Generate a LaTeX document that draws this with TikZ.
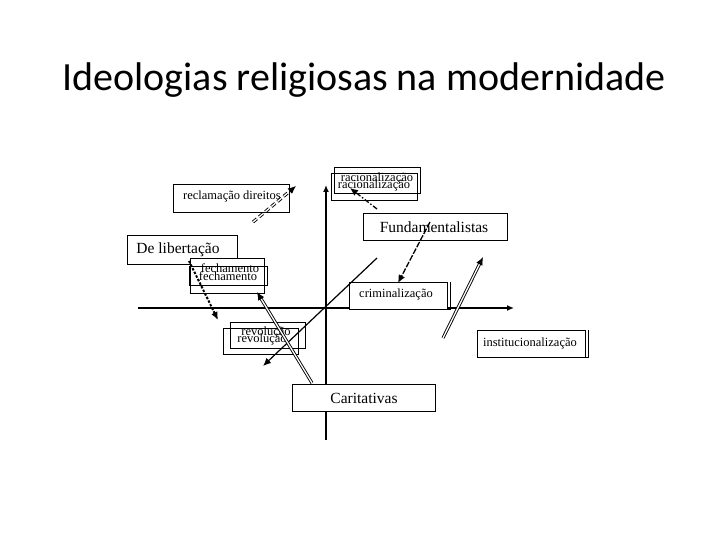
\documentclass[tikz,border=0pt]{standalone}
\usepackage{fontspec}
\setmainfont{Liberation Serif}
\newfontfamily\titlefont{Carlito}
\newfontfamily\labelfont{Liberation Serif}
\usetikzlibrary{arrows.meta}
\tikzset{
  lbl/.style={draw=black, line width=0.8pt, fill=white, inner sep=0pt},
  biglbl/.style={draw=black, line width=0.8pt, fill=white, inner sep=0pt},
  smalltxt/.style={inner sep=0pt, font=\labelfont\fontsize{12.5}{13}\selectfont},
  bigtxt/.style={inner sep=0pt, font=\labelfont\fontsize{15.5}{16}\selectfont},
  axis/.style={line width=1.8pt, -{Latex[length=7pt,width=6pt]}},
  dbl/.style={double=white, double distance=1.3pt, line width=0.9pt, -{Latex[length=8pt,width=7pt]}},
  arr/.style={line width=1pt, -{Latex[length=8pt,width=7pt]}}
}
\begin{document}
\begin{tikzpicture}[x=1pt,y=-1pt]
\useasboundingbox (0,0) rectangle (720,540);
\fill[white] (0,0) rectangle (720,540);

\node[font=\titlefont\fontsize{40}{44}\selectfont, anchor=base, inner sep=0pt] (title) at (364,91) {Ideologias religiosas na modernidade};

% axes
\coordinate (vb) at (326,440);
\coordinate (vt) at (326,185);
\coordinate (hl) at (138,308);
\coordinate (hr) at (514,308);
\draw[axis] (vb) -- (vt);
\draw[axis] (hl) -- (hr);

% boxes
\node[lbl, minimum width=116pt, minimum height=28pt] (recl) at (231,198) {};
\node[smalltxt, anchor=west] (recltxt) at (183,196) {reclamação direitos};

\node[lbl, minimum width=86pt, minimum height=26pt] (rac1) at (377,180) {};
\node[lbl, minimum width=86pt, minimum height=27pt, fill=none] (rac2) at (374,186.5) {};
\node[smalltxt] (ractxt1) at (377,178) {racionalização};
\node[smalltxt] (ractxt2) at (374,185) {racionalização};

\node[biglbl, minimum width=144pt, minimum height=27pt] (fund) at (435,227) {};
\node[bigtxt] (fundtxt) at (434,227) {Fundamentalistas};

\node[biglbl, minimum width=110pt, minimum height=29pt] (lib) at (182,250) {};
\node[bigtxt] (libtxt) at (178,250) {De libertação};

\node[lbl, minimum width=74pt, minimum height=35pt] (fech1) at (227,275.5) {};
\node[lbl, minimum width=78pt, minimum height=19pt, fill=none] (fech2) at (228,275.5) {};
\node[smalltxt] (fechtxt1) at (230,268.5) {fechamento};
\node[smalltxt] (fechtxt2) at (228,276.5) {fechamento};

\node[lbl, minimum width=98pt, minimum height=27pt] (crim) at (398,295.5) {};
\draw[line width=0.8pt] ([xshift=3pt]crim.north east) -- ([xshift=3pt]crim.south east) -- (crim.south east);
\node[smalltxt] (crimtxt) at (396,294) {criminalização};

\node[lbl, minimum width=75pt, minimum height=26pt] (rev1) at (267.5,335) {};
\node[lbl, minimum width=75pt, minimum height=26pt, fill=none] (rev2) at (260.5,341) {};
\node[smalltxt] (revtxt1) at (266,332) {revolução};
\node[smalltxt] (revtxt2) at (262,339) {revolução};

\node[lbl, minimum width=108pt, minimum height=27pt] (inst) at (531,343.5) {};
\draw[line width=0.8pt] ([xshift=3pt]inst.north east) -- ([xshift=3pt]inst.south east) -- (inst.south east);
\node[smalltxt] (insttxt) at (530,343) {institucionalização};

\node[biglbl, minimum width=143pt, minimum height=27pt] (cari) at (363.5,397.5) {};
\node[bigtxt] (caritxt) at (364,398) {Caritativas};

% connectors
\coordinate (a1s) at (253,222);
\coordinate (a1e) at (296,186);
\draw[dbl, dash pattern=on 5pt off 3pt] (a1s) -- (a1e);

\coordinate (a2s) at (377,209);
\coordinate (a2e) at (350,188);
\draw[arr, line width=1.3pt, dash pattern=on 5pt off 2pt on 1.5pt off 2pt] (a2s) -- (a2e);

\coordinate (a3s) at (430,222);
\coordinate (a3e) at (398,283);
\draw[arr, line width=1.3pt, dash pattern=on 6pt off 1.5pt] (a3s) -- (a3e);

\coordinate (a4s) at (377,258);
\coordinate (a4e) at (263,366);
\draw[arr, line width=1.2pt] (a4s) -- (a4e);

\coordinate (a5s) at (312,383);
\coordinate (a5e) at (257,292);
\draw[dbl] (a5s) -- (a5e);

\coordinate (a6s) at (189,261);
\coordinate (a6e) at (218,320);
\draw[arr, line width=2pt, dash pattern=on 2.5pt off 1.5pt] (a6s) -- (a6e);

\coordinate (a7s) at (443,338);
\coordinate (a7e) at (483,257);
\draw[dbl] (a7s) -- (a7e);
\end{tikzpicture}
\end{document}
